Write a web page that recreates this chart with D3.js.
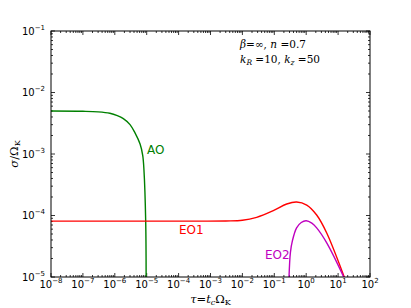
<!DOCTYPE html>
<html>
<head>
<meta charset="utf-8">
<script src="https://cdn.jsdelivr.net/npm/d3@7"></script>
<style>
  body { margin: 0; background: #fff; }
  svg { display: block; }
</style>
</head>
<body>
<svg></svg>
<script>
// chart size and plot box
var width = 411;
var height = 308;
var margin = {top: 31, right: 41, bottom: 31, left: 51};

// tick values
var xTicks = [1e-8, 1e-7, 1e-6, 1e-5, 1e-4, 1e-3, 1e-2, 1e-1, 1e0, 1e1, 1e2];
var yTicks = [1e-5, 1e-4, 1e-3, 1e-2, 1e-1];

// AO branch
var aoTau   = [1e-8, 1e-7, 3e-7, 7e-7, 1.2e-6, 1.85e-6, 3e-6, 4.3e-6, 6.2e-6, 7.5e-6, 8.2e-6, 9.3e-6, 9.6e-6];
var aoSigma = [5.0e-3, 4.95e-3, 4.85e-3, 4.6e-3, 4.2e-3, 3.75e-3, 3.0e-3, 2.2e-3, 1.45e-3, 9.5e-4, 5.5e-4, 8.1e-5, 8e-6];

// EO1 branch
var eo1Tau   = [1e-8, 1e-4, 3e-3, 1e-2, 0.028, 0.093, 0.245, 0.5, 1.04, 2.13, 4.4, 15.6, 20];
var eo1Sigma = [8.1e-5, 8.1e-5, 8.15e-5, 8.35e-5, 9.35e-5, 1.2e-4, 1.54e-4, 1.66e-4, 1.48e-4, 1.02e-4, 5.2e-5, 1.0e-5, 7e-6];

// EO2 branch
var eo2Tau   = [0.285, 0.32, 0.37, 0.5, 0.7, 1.0, 1.5, 2.13, 4.4, 15, 18];
var eo2Sigma = [8e-6, 2.5e-5, 3.9e-5, 6.3e-5, 7.7e-5, 8.2e-5, 7.5e-5, 6.3e-5, 3.6e-5, 1.0e-5, 8e-6];

var svg = d3.select("svg")
  .attr("width", width)
  .attr("height", height);

var x = d3.scaleLog()
  .domain([1e-8, 1e2])
  .range([margin.left, width - margin.right]);

var y = d3.scaleLog()
  .domain([1e-5, 1e-1])
  .range([height - margin.bottom, margin.top]);

svg.append("clipPath").attr("id", "clip")
  .append("rect")
  .attr("x", margin.left).attr("y", margin.top)
  .attr("width", width - margin.left - margin.right)
  .attr("height", height - margin.top - margin.bottom);

// minor ticks: 2..9 inside each decade
function minors(lo, hi) {
  var out = [];
  for (var e = lo; e < hi; e++) {
    for (var k = 2; k <= 9; k++) out.push(k * Math.pow(10, e));
  }
  return out;
}
var xMinor = minors(-8, 2);
var yMinor = minors(-5, -1);

var x0 = margin.left, x1 = width - margin.right;
var y0 = height - margin.bottom, y1 = margin.top;

var ticks = svg.append("g").attr("stroke", "#000").attr("stroke-width", 0.8);
function tickLines(vals, len, isX) {
  vals.forEach(function(v) {
    if (isX) {
      var px = x(v);
      ticks.append("line").attr("x1", px).attr("x2", px).attr("y1", y0).attr("y2", y0 - len);
      ticks.append("line").attr("x1", px).attr("x2", px).attr("y1", y1).attr("y2", y1 + len);
    } else {
      var py = y(v);
      ticks.append("line").attr("y1", py).attr("y2", py).attr("x1", x0).attr("x2", x0 + len);
      ticks.append("line").attr("y1", py).attr("y2", py).attr("x1", x1).attr("x2", x1 - len);
    }
  });
}
tickLines(xTicks, 4, true);
tickLines(xMinor, 2, true);
tickLines(yTicks, 4, false);
tickLines(yMinor, 2, false);

// tick labels as 10^n
function powLabel(sel, v) {
  var e = Math.round(Math.log10(v));
  sel.append("tspan").text("10");
  sel.append("tspan").attr("dy", -5).attr("font-size", 7).text(e < 0 ? "\u2212" + (-e) : e);
}

svg.append("g").selectAll("text")
  .data(xTicks)
  .enter().append("text")
  .attr("x", function(d) { return x(d); })
  .attr("y", 288)
  .attr("text-anchor", "middle")
  .attr("font-family", "DejaVu Sans")
  .attr("font-size", 10)
  .each(function(d) { powLabel(d3.select(this), d); });

svg.append("g").selectAll("text")
  .data(yTicks)
  .enter().append("text")
  .attr("x", 45)
  .attr("y", function(d) { return y(d) + 3.5; })
  .attr("text-anchor", "end")
  .attr("font-family", "DejaVu Sans")
  .attr("font-size", 10)
  .each(function(d) { powLabel(d3.select(this), d); });

// curves
var line = d3.line()
  .x(function(d) { return x(d[0]); })
  .y(function(d) { return y(d[1]); })
  .curve(d3.curveCatmullRom.alpha(0.5));

var series = [
  {tau: aoTau, sigma: aoSigma, color: "#008000"},
  {tau: eo1Tau, sigma: eo1Sigma, color: "#ff0000"},
  {tau: eo2Tau, sigma: eo2Sigma, color: "#bf00bf"}
];

svg.append("g").attr("clip-path", "url(#clip)")
  .selectAll("path")
  .data(series)
  .enter().append("path")
  .attr("d", function(s) { return line(d3.zip(s.tau, s.sigma)); })
  .attr("fill", "none")
  .attr("stroke", function(s) { return s.color; })
  .attr("stroke-width", 1.4);

// frame
svg.append("rect")
  .attr("x", x0).attr("y", y1)
  .attr("width", x1 - x0).attr("height", y0 - y1)
  .attr("fill", "none").attr("stroke", "#000").attr("stroke-width", 1);

// curve labels
var labels = [
  {text: "AO", x: 147, y: 153.5, color: "#008000"},
  {text: "EO1", x: 179, y: 233.5, color: "#ff0000"},
  {text: "EO2", x: 265, y: 258.5, color: "#bf00bf"}
];
svg.append("g").selectAll("text")
  .data(labels)
  .enter().append("text")
  .attr("x", function(d) { return d.x; })
  .attr("y", function(d) { return d.y; })
  .attr("fill", function(d) { return d.color; })
  .attr("font-family", "DejaVu Sans")
  .attr("font-size", 12)
  .text(function(d) { return d.text; });

// parameter note
var note = svg.append("g").attr("font-family", "DejaVu Serif").attr("font-size", 10.5);
var n1 = note.append("text").attr("x", 240).attr("y", 48);
n1.append("tspan").attr("font-style", "italic").text("\u03b2");
n1.append("tspan").text("=\u221e, ");
n1.append("tspan").attr("font-style", "italic").text("n");
n1.append("tspan").text(" =0.7");
var n2 = note.append("text").attr("x", 240).attr("y", 63);
n2.append("tspan").attr("font-style", "italic").text("k");
n2.append("tspan").attr("font-style", "italic").attr("font-size", 7.5).attr("dy", 2).text("R");
n2.append("tspan").attr("dy", -2).text(" =10, ");
n2.append("tspan").attr("font-style", "italic").text("k");
n2.append("tspan").attr("font-style", "italic").attr("font-size", 7.5).attr("dy", 2).text("z");
n2.append("tspan").attr("dy", -2).text(" =50");

// axis titles
var xl = svg.append("text")
  .attr("x", (x0 + x1) / 2).attr("y", 303)
  .attr("text-anchor", "middle")
  .attr("font-family", "DejaVu Serif").attr("font-size", 11.5);
xl.append("tspan").attr("font-style", "italic").text("\u03c4");
xl.append("tspan").text("=");
xl.append("tspan").attr("font-style", "italic").text("t");
xl.append("tspan").attr("font-style", "italic").attr("font-size", 8).attr("dy", 2).text("c");
xl.append("tspan").attr("dy", -2).text("\u03a9");
xl.append("tspan").attr("font-size", 8).attr("dy", 2).text("K");

var yl = svg.append("text")
  .attr("transform", "translate(18," + ((y0 + y1) / 2) + ") rotate(-90)")
  .attr("text-anchor", "middle")
  .attr("font-family", "DejaVu Serif").attr("font-size", 11.5);
yl.append("tspan").attr("font-style", "italic").text("\u03c3");
yl.append("tspan").text("/\u03a9");
yl.append("tspan").attr("font-size", 8).attr("dy", 2).text("K");
</script>
</body>
</html>
